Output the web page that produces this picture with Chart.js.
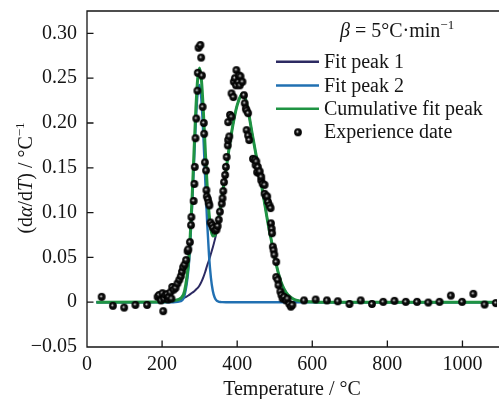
<!DOCTYPE html>
<html lang="en">
<head>
<meta charset="UTF-8">
<title>Peak fitting of DTG curve</title>
<script src="https://cdn.jsdelivr.net/npm/chart.js@4"></script>
<style>
  html, body { margin: 0; padding: 0; background: #fff; }
  canvas { display: block; }
</style>
</head>
<body>
<canvas id="chart" width="502" height="399"></canvas>
<script>
// temperature grid of the fitted curves (°C)
const tempGrid = [25, 200, 230, 250, 260, 270, 275, 280, 285, 290, 295, 300, 305, 310, 315, 320, 325, 330, 335, 340,
  345, 350, 355, 360, 370, 380, 390, 400, 410, 415, 420, 430, 440, 450, 460, 470, 480, 490, 500, 510,
  520, 530, 540, 550, 560, 575, 590, 620, 1100];
const fitPeak1 = [0, 0.0002, 0.0018, 0.0035, 0.005, 0.0075, 0.009, 0.0105, 0.012, 0.014, 0.016, 0.019, 0.023, 0.028, 0.034, 0.041, 0.047, 0.054, 0.061, 0.069,
  0.078, 0.091, 0.105, 0.119, 0.147, 0.176, 0.201, 0.220, 0.231, 0.233, 0.2295, 0.212, 0.188, 0.165, 0.142, 0.118, 0.093, 0.071, 0.050, 0.032,
  0.019, 0.011, 0.0062, 0.0035, 0.002, 0.0009, 0.0004, 0, 0];
const fitPeak2 = [0, 0, 0, 0.0011, 0.0077, 0.036, 0.0656, 0.1069, 0.1556, 0.2022, 0.2343, 0.2424, 0.2239, 0.1846, 0.1358, 0.0892, 0.0523, 0.0273, 0.0128, 0.0053,
  0.0019, 0.0007, 0.0002, 0.0001, 0, 0, 0, 0, 0, 0, 0, 0, 0, 0, 0, 0, 0, 0, 0, 0,
  0, 0, 0, 0, 0, 0, 0, 0, 0];
const cumulativeFit = [0, 0.0002, 0.0018, 0.0046, 0.0127, 0.0435, 0.0746, 0.1174, 0.1676, 0.2162, 0.2503, 0.2614, 0.2469, 0.2126, 0.1698, 0.1302, 0.0993, 0.0813, 0.0738, 0.0743,
  0.0799, 0.0917, 0.1052, 0.1191, 0.147, 0.176, 0.201, 0.220, 0.231, 0.233, 0.2295, 0.212, 0.188, 0.165, 0.142, 0.118, 0.093, 0.071, 0.050, 0.032,
  0.019, 0.011, 0.0062, 0.0035, 0.002, 0.0009, 0.0004, 0, 0];

// experimental points
const expTemp = [39, 69, 99, 129, 160, 188, 192, 197, 201, 203, 205, 209, 213, 216, 218, 222, 225, 227, 231, 236,
  241, 246, 250, 253, 256, 260, 264, 268, 270, 274, 277, 278, 284, 286, 287, 289, 291, 294, 295, 297,
  302, 304, 306, 308, 311, 312, 314, 317, 318, 319, 322, 324, 326, 329, 333, 336, 341, 345, 348, 351,
  354, 359, 361, 363, 365, 368, 370, 372, 375, 376, 379, 376, 381, 385, 385, 390, 391, 394, 397, 398,
  403, 405, 407, 409, 414, 418, 420, 423, 425, 425, 429, 429, 432, 442, 447, 449, 451, 453, 455, 458,
  460, 464, 464, 468, 473, 473, 477, 480, 482, 486, 489, 490, 492, 493, 495, 497, 499, 504, 504, 508,
  510, 515, 518, 521, 525, 530, 534, 539, 543, 547, 578, 609, 639, 668, 699, 729, 759, 789, 819, 849,
  879, 909, 939, 969, 999, 1029, 1059, 1089];
const expRate = [0.006, -0.004, -0.006, -0.003, -0.003, 0.006, 0.008, 0.002, 0.010, -0.010, 0.004, 0.008, 0.009, 0.003, 0.006, 0.011, 0.004, 0.017, 0.014, 0.016,
  0.021, 0.025, 0.029, 0.034, 0.039, 0.042, 0.047, 0.057, 0.059, 0.067, 0.086, 0.095, 0.113, 0.132, 0.151, 0.183, 0.205, 0.236, 0.256, 0.284,
  0.287, 0.273, 0.253, 0.218, 0.200, 0.188, 0.156, 0.147, 0.125, 0.118, 0.115, 0.111, 0.108, 0.089, 0.086, 0.083, 0.080, 0.081, 0.085, 0.092,
  0.101, 0.110, 0.116, 0.124, 0.134, 0.142, 0.151, 0.162, 0.175, 0.181, 0.185, 0.201, 0.209, 0.207, 0.233, 0.229, 0.246, 0.250, 0.242, 0.259,
  0.246, 0.253, 0.242, 0.252, 0.246, 0.231, 0.222, 0.216, 0.214, 0.192, 0.211, 0.186, 0.181, 0.160, 0.159, 0.153, 0.157, 0.145, 0.151, 0.144,
  0.146, 0.136, 0.140, 0.132, 0.131, 0.121, 0.118, 0.118, 0.112, 0.108, 0.105, 0.088, 0.082, 0.077, 0.062, 0.058, 0.053, 0.045, 0.028, 0.025,
  0.019, 0.012, 0.008, 0.004, 0.006, 0.002, 0.004, -0.002, -0.005, -0.003, 0.002, 0.003, 0.002, 0.001, -0.002, 0.002, -0.002, 0.0004, 0.0015, 0.0004,
  0.0004, -0.0004, 0.0004, 0.0074, 0.0004, 0.0093, -0.0026, -0.001];

const xTicks = [0, 200, 400, 600, 800, 1000];
const yTicks = [-0.05, 0, 0.05, 0.10, 0.15, 0.20, 0.25, 0.30];

const serif = "'Liberation Serif', 'Times New Roman', serif";
const ink = '#151515';

// shaded black ball used for the experimental points
function makeBall(r) {
  const c = document.createElement('canvas');
  const s = Math.ceil(r * 2) + 2;
  c.width = c.height = s;
  const g = c.getContext('2d');
  const m = s / 2;
  const grad = g.createRadialGradient(m - 0.8, m - 0.8, 0, m, m, r);
  grad.addColorStop(0, '#ffffff');
  grad.addColorStop(0.2, '#8a8a8a');
  grad.addColorStop(0.4, '#111111');
  grad.addColorStop(1, '#000000');
  g.fillStyle = grad;
  g.beginPath();
  g.arc(m, m, r, 0, Math.PI * 2);
  g.fill();
  return c;
}
const ball = makeBall(3.9);

const xy = (xs, ys) => xs.map((x, i) => ({ x: x, y: ys[i] }));

// draws text pieces one after another (for italic / superscript parts)
function richText(ctx, parts, x, y) {
  let cx = x;
  parts.forEach(p => {
    ctx.font = p.font;
    ctx.fillText(p.t, cx, y + (p.dy || 0));
    cx += ctx.measureText(p.t).width;
  });
}
function richWidth(ctx, parts) {
  let w = 0;
  parts.forEach(p => { ctx.font = p.font; w += ctx.measureText(p.t).width; });
  return w;
}

const fN = '20px ' + serif, fI = 'italic 20px ' + serif, fS = '13px ' + serif;

const decor = {
  id: 'decor',
  afterDraw(chart) {
    const { ctx, chartArea: a, scales: { x, y } } = chart;
    ctx.save();
    ctx.strokeStyle = ink;
    ctx.lineWidth = 1.3;
    ctx.beginPath();
    ctx.moveTo(a.right + 2, a.top);
    ctx.lineTo(a.left, a.top);
    ctx.lineTo(a.left, a.bottom);
    ctx.lineTo(a.right + 2, a.bottom);
    // ticks pointing inwards
    x.ticks.forEach(t => {
      const p = x.getPixelForValue(t.value);
      ctx.moveTo(p, a.bottom);
      ctx.lineTo(p, a.bottom - 6.5);
    });
    y.ticks.forEach(t => {
      const p = y.getPixelForValue(t.value);
      ctx.moveTo(a.left, p);
      ctx.lineTo(a.left + 6.5, p);
    });
    ctx.stroke();

    ctx.fillStyle = ink;
    ctx.textBaseline = 'alphabetic';
    ctx.textAlign = 'left';

    // y axis title, rotated
    const yt = [
      { t: '(d', font: fN }, { t: 'α', font: fI }, { t: '/d', font: fN }, { t: 'T', font: fI },
      { t: ') / °C', font: fN }, { t: '−1', font: fS, dy: -8 }
    ];
    ctx.save();
    ctx.translate(25, 178);
    ctx.rotate(-Math.PI / 2);
    richText(ctx, yt, -richWidth(ctx, yt) / 2, 7);
    ctx.restore();

    // heating rate note
    richText(ctx, [
      { t: 'β', font: fI }, { t: ' = 5°C·min', font: fN }, { t: '−1', font: fS, dy: -8 }
    ], 340, 37);

    // legend
    const rowY = [61.7, 85.5, 108.8, 132.3];
    chart.data.datasets.forEach((ds, i) => {
      const ly = rowY[i];
      if (ds.showLine) {
        ctx.strokeStyle = ds.borderColor;
        ctx.lineWidth = 2.6;
        ctx.beginPath();
        ctx.moveTo(276, ly);
        ctx.lineTo(319, ly);
        ctx.stroke();
      } else {
        ctx.drawImage(ball, 298 - ball.width / 2, ly - ball.height / 2);
      }
      ctx.font = fN;
      ctx.fillStyle = ink;
      ctx.fillText(ds.label, 324, ly + 6);
    });
    ctx.restore();
  }
};

const yLabel = v => {
  if (Math.abs(v) < 1e-9) return '0';
  return v < 0 ? '−' + Math.abs(v).toFixed(2) : v.toFixed(2);
};

// keep the plot box where the reference puts it
const noPad = s => { s.paddingTop = 0; s.paddingBottom = 0; s.paddingLeft = 0; s.paddingRight = 0; };

new Chart(document.getElementById('chart'), {
  type: 'scatter',
  data: {
    datasets: [
      {
        label: 'Fit peak 1', data: xy(tempGrid, fitPeak1), showLine: true,
        borderColor: '#2c2a62', borderWidth: 2, pointRadius: 0, cubicInterpolationMode: 'monotone', order: 4
      },
      {
        label: 'Fit peak 2', data: xy(tempGrid, fitPeak2), showLine: true,
        borderColor: '#2170b2', borderWidth: 2.4, pointRadius: 0, cubicInterpolationMode: 'monotone', order: 3
      },
      {
        label: 'Cumulative fit peak', data: xy(tempGrid, cumulativeFit), showLine: true,
        borderColor: '#1f9443', borderWidth: 3, pointRadius: 0, cubicInterpolationMode: 'monotone', order: 2
      },
      {
        label: 'Experience date', data: xy(expTemp, expRate), showLine: false,
        pointStyle: ball, pointRadius: 4, order: 1
      }
    ]
  },
  options: {
    responsive: false,
    animation: false,
    devicePixelRatio: 1,
    layout: { padding: { top: 11, left: 0, right: 0, bottom: 0 } },
    plugins: { legend: { display: false }, tooltip: { enabled: false } },
    scales: {
      x: {
        type: 'linear', min: 0, max: 1092,
        afterBuildTicks: s => { s.ticks = xTicks.map(v => ({ value: v })); },
        afterFit: s => { s.height = 52; noPad(s); },
        grid: { display: false, drawTicks: false },
        border: { display: false },
        ticks: { font: { family: serif, size: 20 }, color: ink, padding: 6, maxRotation: 0, callback: v => String(v) },
        title: { display: true, text: 'Temperature / °C', font: { family: serif, size: 20 }, color: ink, padding: { top: 0, bottom: -3 } }
      },
      y: {
        type: 'linear', min: -0.05, max: 0.325,
        afterBuildTicks: s => { s.ticks = yTicks.map(v => ({ value: v })); },
        afterFit: s => { s.width = 87; noPad(s); },
        grid: { display: false, drawTicks: false },
        border: { display: false },
        ticks: { font: { family: serif, size: 20 }, color: ink, padding: 10, callback: yLabel }
      }
    }
  },
  plugins: [decor]
});
</script>
</body>
</html>
